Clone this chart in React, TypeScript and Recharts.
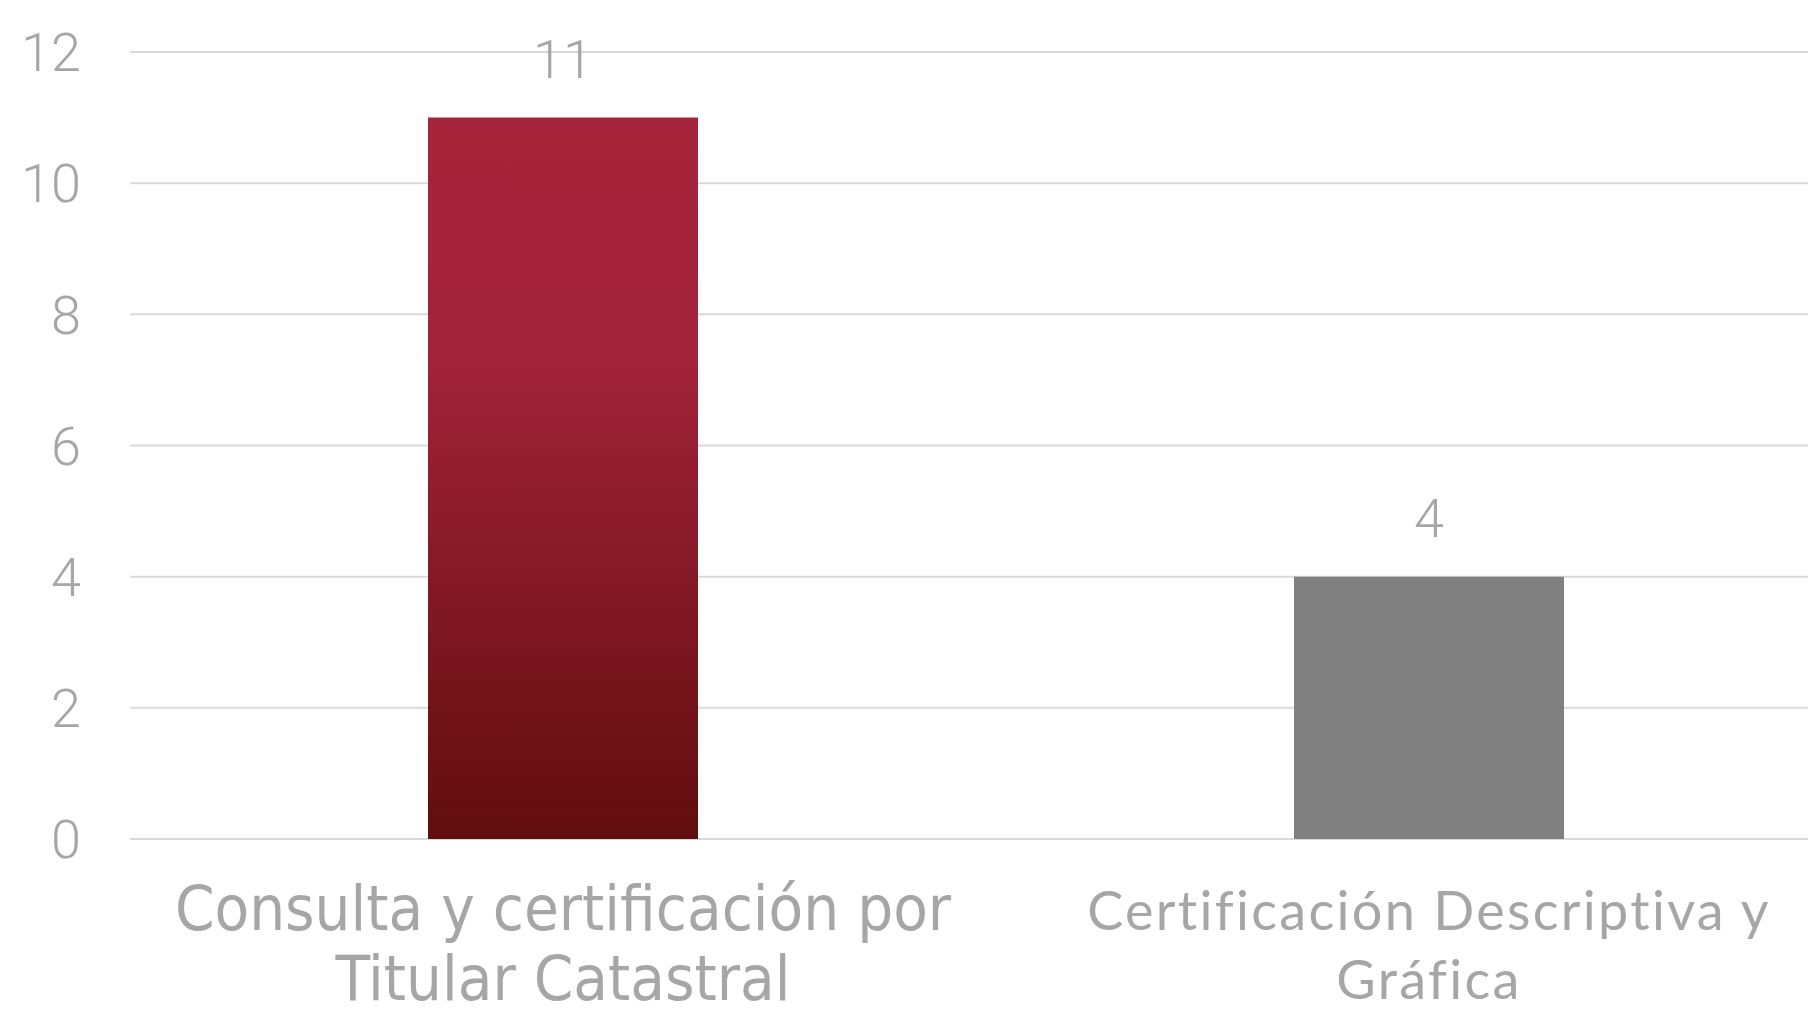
import { BarChart, Bar, XAxis, YAxis, CartesianGrid, LabelList, Cell } from 'recharts';

// Chart values
const categories = ['Consulta y certificación por|Titular Catastral', 'Certificación Descriptiva y|Gráfica'];
const counts = [11, 4];
const yTicks = [0, 2, 4, 6, 8, 10, 12];
const barFills = ['url(#redFade)', '#808080'];

const data = categories.map((name, i) => ({ name, value: counts[i] }));

const labelColor = '#a6a6a6';

const CategoryTick = ({ x, y, payload, index }: any) => {
  const lines = String(payload.value).split('|');
  // first label is set narrower and taller than the second one in the original
  const first = index === 0;
  return (
    <text
      x={x}
      y={y}
      textAnchor="middle"
      fill={labelColor}
      fontFamily={first ? '"DejaVu Sans Condensed", "Liberation Sans Narrow", Roboto, sans-serif' : 'Lato, sans-serif'}
      fontSize={first ? 63 : 54}
      letterSpacing={first ? 0 : 2.3}
    >
      {lines.map((line, i) => (
        <tspan key={i} x={x} dy={i === 0 ? 83 : first ? 70 : 69}>
          {line}
        </tspan>
      ))}
    </text>
  );
};

export default function App() {
  return (
    <div style={{ position: 'absolute', left: 0, top: 0, width: 1808, height: 1016, overflow: 'hidden', background: '#fff' }}>
      <BarChart width={1862} height={1016} data={data} margin={{ top: 52, right: 0, bottom: 0, left: 0 }}>
        <defs>
          <linearGradient id="redFade" x1="0" y1="0" x2="0" y2="1">
            <stop offset="0%" stopColor="#a6243a" />
            <stop offset="32%" stopColor="#a3233a" />
            <stop offset="100%" stopColor="#610d0e" />
          </linearGradient>
        </defs>
        <CartesianGrid vertical={false} stroke="#d9d9d9" strokeWidth={2} />
        <XAxis
          dataKey="name"
          axisLine={false}
          tickLine={false}
          height={177}
          interval={0}
          tick={<CategoryTick />}
        />
        <YAxis
          width={130}
          domain={[0, 12]}
          ticks={yTicks}
          axisLine={false}
          tickLine={false}
          tickSize={0}
          tickMargin={49}
          tick={{ fill: labelColor, fontSize: 54, fontFamily: 'Roboto, sans-serif', fontWeight: 300 }}
        />
        <Bar dataKey="value" barSize={270} isAnimationActive={false}>
          {data.map((d, i) => (
            <Cell key={d.name} fill={barFills[i]} />
          ))}
          <LabelList
            dataKey="value"
            position="top"
            offset={40}
            fill={labelColor}
            fontSize={54}
            fontFamily="Roboto, sans-serif"
            fontWeight={300}
          />
        </Bar>
      </BarChart>
    </div>
  );
}
